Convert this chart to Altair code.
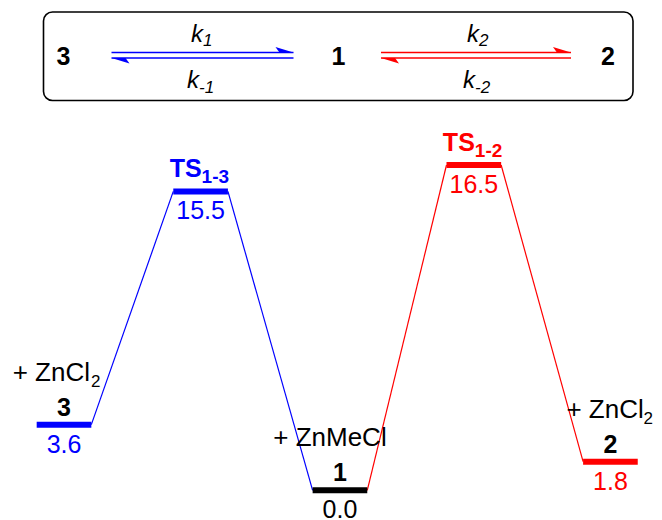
import altair as alt
import pandas as pd

# ---------------- data ----------------
level_ids = ["3", "TS1-3", "1", "TS1-2", "2"]
level_pos = [0.0, 1.0, 2.02, 3.0, 4.0]            # reaction coordinate
level_height = [3.33, 15.16, 0.0, 16.5, 1.45]     # heights as drawn (kcal/mol scale)
energy_labels = ["3.6", "15.5", "0.0", "16.5", "1.8"]
level_colors = ["#0000ff", "#0000ff", "#000000", "#ff0000", "#ff0000"]
name_labels = ["3", "TS", "1", "TS", "2"]
name_subs = ["", "1-3", "", "1-2", ""]
partner_text = ["+ ZnCl", "", "+ ZnMeCl", "", "+ ZnCl"]
partner_subs = ["2", "", "", "", "2"]
segment_colors = ["#0000ff", "#0000ff", "#ff0000", "#ff0000"]

FONT = "Liberation Sans"
HW = 0.2  # half width of a level bar in reaction-coordinate units

levels = pd.DataFrame({
    "id": level_ids,
    "pos": level_pos,
    "h": level_height,
    "x1": [p - HW for p in level_pos],
    "x2": [p + HW for p in level_pos],
    "label": energy_labels,
    "color": level_colors,
    "name": name_labels,
    "sub": name_subs,
    "partner": partner_text,
    "psub": partner_subs,
})

segments = pd.DataFrame({
    "xa": [level_pos[i] + HW for i in range(4)],
    "xb": [level_pos[i + 1] - HW for i in range(4)],
    "ya": [level_height[i] for i in range(4)],
    "yb": [level_height[i + 1] for i in range(4)],
    "color": segment_colors,
})

W, H = 646, 512
xs = alt.Scale(domain=[-0.41, 4.319], nice=False, zero=False)
ys = alt.Scale(domain=[-1.5065, 24.464], nice=False, zero=False)


def X(f):
    return alt.X(f, type="quantitative", scale=xs, axis=None)


def Y(f):
    return alt.Y(f, type="quantitative", scale=ys, axis=None)


col = alt.Color("color:N", scale=None, legend=None)

base = alt.Chart(levels)

bars = base.mark_rule(strokeWidth=6, strokeCap="butt").encode(
    x=X("x1"), x2="x2", y=Y("h"), color=col)

conn = alt.Chart(segments).mark_rule(strokeWidth=1.2).encode(
    x=X("xa"), x2="xb", y=Y("ya"), y2="yb", color=col)

values = base.mark_text(font=FONT, fontSize=25, baseline="alphabetic", dy=28).encode(
    x=X("pos"), y=Y("h"), text="label:N", color=col)

plain = base.transform_filter("datum.sub == ''").mark_text(
    font=FONT, fontSize=25, fontWeight="bold", baseline="alphabetic", dy=-9, color="black"
).encode(x=X("pos"), y=Y("h"), text="name:N")

ts_main = base.transform_filter("datum.sub != ''").mark_text(
    font=FONT, fontSize=25, fontWeight="bold", baseline="alphabetic", align="right", dx=1, dy=-14
).encode(x=X("pos"), y=Y("h"), text="name:N", color=col)

ts_sub = base.transform_filter("datum.sub != ''").mark_text(
    font=FONT, fontSize=19, fontWeight="bold", baseline="alphabetic", align="left", dx=1, dy=-8
).encode(x=X("pos"), y=Y("h"), text="sub:N", color=col)


def partner(idx, align, dx, sub_dx):
    d = base.transform_filter(f"datum.id == '{level_ids[idx]}'")
    layers = [d.mark_text(font=FONT, fontSize=26, baseline="alphabetic", align=align,
                          dx=dx, dy=-44, color="black").encode(
        x=X("pos"), y=Y("h"), text="partner:N")]
    if partner_subs[idx]:
        layers.append(d.mark_text(font=FONT, fontSize=17, baseline="alphabetic", align="left",
                                  dx=sub_dx, dy=-38, color="black").encode(
            x=X("pos"), y=Y("h"), text="psub:N"))
    return layers


partners = partner(0, "right", 26, 27) + partner(2, "center", -10, 0) + partner(4, "left", -44, 33)

# ---------------- kinetic scheme (decorative, pixel positions) ----------------
dummy = pd.DataFrame({"a": [0]})
d = alt.Chart(dummy)

box = d.mark_rect(fill="white", fillOpacity=0, stroke="black", strokeWidth=1.6, cornerRadius=9).encode(
    x=alt.value(35.5), x2=alt.value(625), y=alt.value(4), y2=alt.value(92.5))

scheme_layers = [box]
for lbl, xx in [("3", 55.5), ("1", 330.5), ("2", 600)]:
    scheme_layers.append(d.mark_text(text=lbl, font=FONT, fontSize=25, fontWeight="bold",
                                     baseline="alphabetic", color="black").encode(
        x=alt.value(xx), y=alt.value(57)))

harpoon_r = "M0,0L-1,-0.3L-0.78,0Z"
harpoon_l = "M0,0L1,0.3L0.78,0Z"
for (xa, xb, c, kc, ksub_f, ksub_r) in [(103.5, 285.5, "#0000ff", 194, "1", "-1"),
                                         (373, 563, "#ff0000", 470, "2", "-2")]:
    scheme_layers.append(d.mark_rule(strokeWidth=1.5, color=c).encode(
        x=alt.value(xa), x2=alt.value(xb), y=alt.value(44.5)))
    scheme_layers.append(d.mark_rule(strokeWidth=1.5, color=c).encode(
        x=alt.value(xa), x2=alt.value(xb), y=alt.value(50)))
    scheme_layers.append(d.mark_point(shape=harpoon_r, size=1296, filled=True, opacity=1,
                                      color=c, strokeWidth=0).encode(
        x=alt.value(xb), y=alt.value(44.5)))
    scheme_layers.append(d.mark_point(shape=harpoon_l, size=1296, filled=True, opacity=1,
                                      color=c, strokeWidth=0).encode(
        x=alt.value(xa), y=alt.value(50)))
    # rate constant labels
    scheme_layers.append(d.mark_text(text="k", font=FONT, fontSize=24, fontStyle="italic",
                                     align="right", baseline="alphabetic", color="black").encode(
        x=alt.value(kc + 1), y=alt.value(34)))
    scheme_layers.append(d.mark_text(text=ksub_f, font=FONT, fontSize=17, fontStyle="italic",
                                     align="left", baseline="alphabetic", color="black").encode(
        x=alt.value(kc + 1), y=alt.value(38)))
    scheme_layers.append(d.mark_text(text="k", font=FONT, fontSize=24, fontStyle="italic",
                                     align="right", baseline="alphabetic", color="black").encode(
        x=alt.value(kc - 3), y=alt.value(80)))
    scheme_layers.append(d.mark_text(text=ksub_r, font=FONT, fontSize=17, fontStyle="italic",
                                     align="left", baseline="alphabetic", color="black").encode(
        x=alt.value(kc - 3), y=alt.value(85)))

chart = alt.layer(
    *scheme_layers, conn, bars, values, plain, ts_main, ts_sub, *partners
).properties(
    width=W, height=H, padding=0, autosize=alt.AutoSizeParams(type="none")
).configure_view(stroke=None)

chart.save("out.html", embed_options={"renderer": "svg", "actions": False})
